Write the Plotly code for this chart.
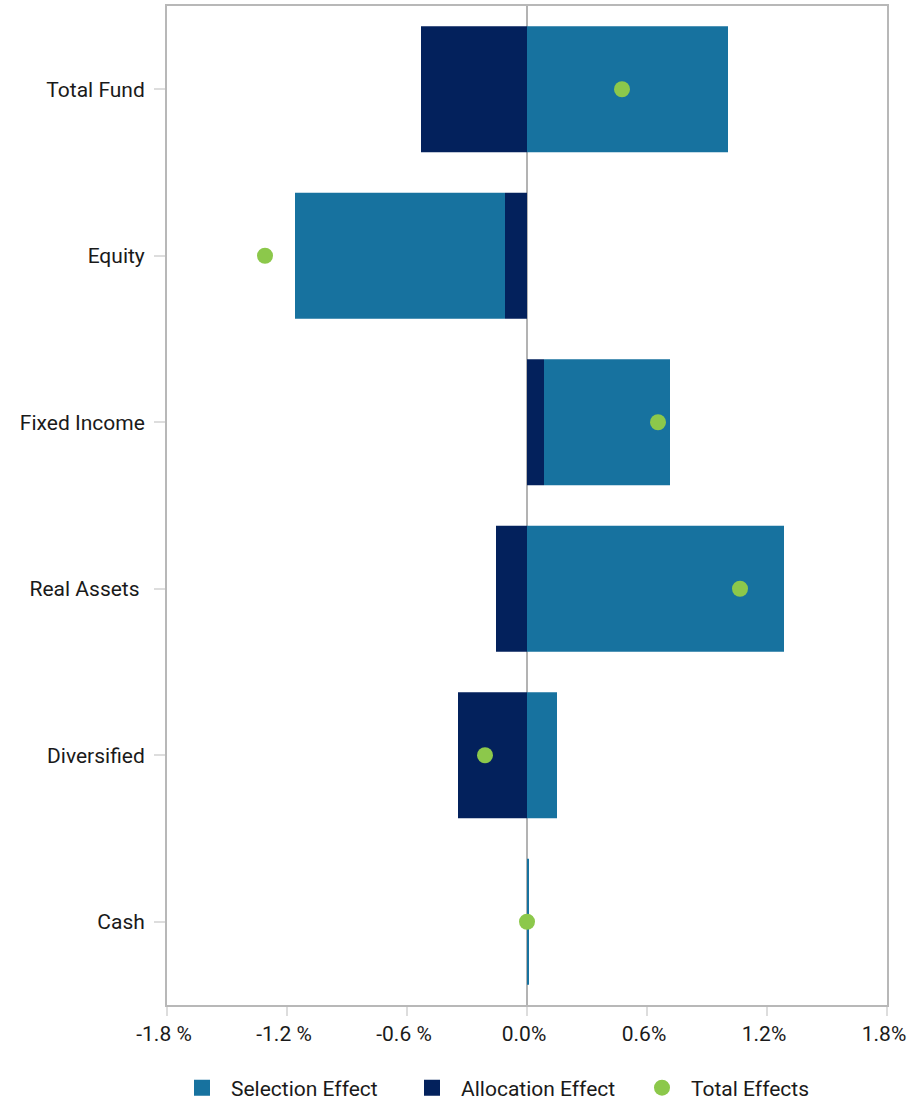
import plotly.graph_objects as go

categories = ["Total Fund", "Equity", "Fixed Income", "Real Assets ", "Diversified", "Cash"]
allocation = [-0.53, -0.11, 0.085, -0.155, -0.345, 0.0]
selection = [1.005, -1.05, 0.63, 1.285, 0.15, 0.01]
total = [0.475, -1.31, 0.655, 1.065, -0.21, 0.0]

tick_vals = [-1.8, -1.2, -0.6, 0.0, 0.6, 1.2, 1.8]
tick_text = ["-1.8 %", "-1.2 %", "-0.6 %", "0.0%", "0.6%", "1.2%", "1.8%"]

SEL = "#17729f"
ALLOC = "#03215c"
TOT = "#8cc84b"
FONT = "Roboto"

fig = go.Figure()
fig.add_trace(go.Bar(y=categories, x=allocation, orientation="h", name="Allocation Effect",
                     marker=dict(color=ALLOC, line=dict(width=0)), showlegend=False))
fig.add_trace(go.Bar(y=categories, x=selection, orientation="h", name="Selection Effect",
                     marker=dict(color=SEL, line=dict(width=0)), showlegend=False))
fig.add_trace(go.Scatter(y=categories, x=total, mode="markers", name="Total Effects",
                         marker=dict(color=TOT, size=16, line=dict(width=0)), showlegend=False))
# legend entries
fig.add_trace(go.Scatter(x=[None], y=[None], mode="markers", name="Selection Effect",
                         marker=dict(color=SEL, size=24, symbol="square", line=dict(width=0))))
fig.add_trace(go.Scatter(x=[None], y=[None], mode="markers", name="Allocation Effect",
                         marker=dict(color=ALLOC, size=24, symbol="square", line=dict(width=0))))
fig.add_trace(go.Scatter(x=[None], y=[None], mode="markers", name="Total Effects",
                         marker=dict(color=TOT, size=24, symbol="circle", line=dict(width=0))))

fig.update_layout(
    width=907, height=1103,
    margin=dict(l=167, r=20, t=6, b=98, autoexpand=False),
    barmode="relative", bargap=0.244,
    plot_bgcolor="white", paper_bgcolor="white",
    font=dict(family=FONT, size=21, color="#1a1a1a"),
    showlegend=True,
    legend=dict(orientation="h", x=173 / 907, xanchor="left", xref="container",
                y=1 - 1088 / 1103, yanchor="middle", yref="container",
                font=dict(size=21), itemwidth=48, itemsizing="trace",
                entrywidth=167, traceorder="normal"),
)
fig.update_xaxes(range=[-1.8, 1.8], tickvals=tick_vals, ticktext=tick_text,
                 showgrid=False, zeroline=True, zerolinecolor="#b3b3b3", zerolinewidth=2,
                 showline=True, linecolor="#b8b8b8", linewidth=2, mirror=True,
                 ticks="outside", ticklen=9, tickcolor="#dddddd", tickwidth=2,
                 ticklabelshift=-3, automargin=False, ticklabeloverflow="allow")
fig.update_yaxes(categoryorder="array", categoryarray=categories, autorange="reversed",
                 showgrid=False, showline=True, linecolor="#b8b8b8", linewidth=2, mirror=True,
                 ticks="outside", ticklen=11, tickcolor="#dddddd", tickwidth=2,
                 ticklabelstandoff=5, automargin=False)

fig.write_html("out.html")
